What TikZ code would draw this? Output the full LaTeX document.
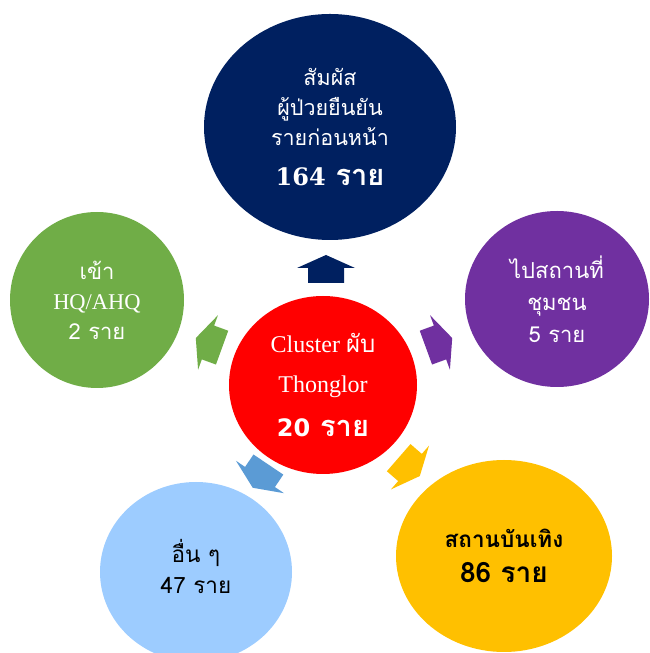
\documentclass[tikz,border=0pt]{standalone}
\usepackage{fontspec}
\setmainfont{Liberation Serif}
\newfontfamily\thai[Script=Thai]{Loma}
\newfontfamily\serifnum{DejaVu Serif}
\newfontfamily\sansnum{DejaVu Sans}
\usetikzlibrary{shapes.geometric}
\definecolor{navyc}{HTML}{002060}
\definecolor{redc}{HTML}{FF0000}
\definecolor{greenc}{HTML}{70AD47}
\definecolor{purplec}{HTML}{7030A0}
\definecolor{lightbluec}{HTML}{9DCCFF}
\definecolor{yellowc}{HTML}{FFC000}
\definecolor{arrowbluec}{HTML}{5B9BD5}
\begin{document}
\begin{tikzpicture}[x=1pt,y=1pt,
  bubble/.style={ellipse, inner sep=0pt, align=center, text=white},
  blockarrow/.pic={\fill (13,0) -- (0,29) -- (0,18) -- (-15,18) -- (-15,-18) -- (0,-18) -- (0,-29) -- cycle;}
  ]
\useasboundingbox (0,0) rectangle (649,653);
% outer bubbles
\node[bubble, fill=navyc, minimum width=252, minimum height=226,
      font=\thai\fontsize{21.5}{30}\selectfont] (contact) at (330,526)
  {สัมผัส\\ผู้ป่วยยืนยัน\\รายก่อนหน้า\\[10pt]{\bfseries\fontsize{29}{30}\selectfont{\serifnum\fontsize{24}{30}\selectfont 164} ราย}};
\node[bubble, fill=greenc, minimum width=174, minimum height=176,
      font=\thai\fontsize{22}{30}\selectfont] (hq) at (97,353)
  {เข้า\\{\rmfamily\fontsize{22.5}{30}\selectfont HQ/AHQ}\\2 ราย};
\node[bubble, fill=purplec, minimum width=184, minimum height=176,
      font=\thai\fontsize{22}{32}\selectfont] (comm) at (557,354)
  {ไปสถานที่\\ชุมชน\\5 ราย};
\node[bubble, fill=redc, minimum width=188, minimum height=178,
      font=\rmfamily\fontsize{24}{40}\selectfont] (center) at (323,268)
  {Cluster {\thai ผับ}\\Thonglor\\[4pt]{\thai\bfseries\fontsize{29}{30}\selectfont{\sansnum\fontsize{24}{30}\selectfont 20} ราย}};
\node[bubble, fill=lightbluec, text=black, minimum width=192, minimum height=180,
      font=\thai\fontsize{22.5}{31}\selectfont] (other) at (196,81)
  {อื่น ๆ\\47 ราย\rule[-12pt]{0pt}{0pt}};
\node[bubble, fill=yellowc, text=black, minimum width=216, minimum height=192,
      font=\thai\bfseries\fontsize{22.5}{35}\selectfont] (ent) at (504,97)
  {สถานบันเทิง\\{\fontsize{28}{35}\selectfont 86 ราย}};
% block arrows
\pic[fill=navyc, rotate=90] at (326,385) {blockarrow};
\pic[fill=greenc, rotate=160] at (208,310.5) {blockarrow};
\pic[fill=purplec, rotate=20] at (440,310.5) {blockarrow};
\pic[fill=arrowbluec, rotate=236] at (260,176) {blockarrow};
\pic[fill=yellowc, rotate=-41] at (410,185.5) {blockarrow};
\end{tikzpicture}
\end{document}
